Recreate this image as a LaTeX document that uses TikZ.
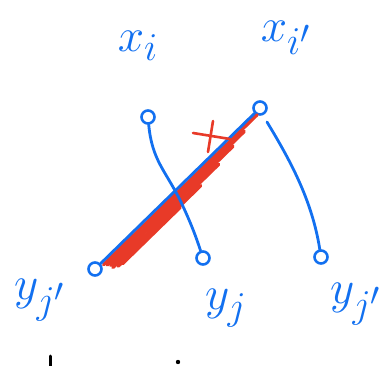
\documentclass[tikz,border=0pt]{standalone}
\usetikzlibrary{calc}

\definecolor{penblue}{RGB}{18,112,240}
\definecolor{penred}{RGB}{232,58,40}

\tikzset{
  dot/.style={draw=penblue,circle,line width=2.6pt,minimum size=13pt,inner sep=0pt},
  lbl/.style={text=penblue,font=\Huge,scale=1.9,inner sep=0pt},
  link/.style={draw=penblue,line width=2.8pt},
  scribble/.style={draw=penred,line width=#1}
}

\begin{document}
\begin{tikzpicture}[x=1pt,y=-1pt,line cap=round,line join=round]
  \useasboundingbox (0,0) rectangle (391,366);
  % labels
  \node[lbl] (lxi) at (138,46) {$x_i$};
  \node[lbl] (lxii) at (286,38) {$x_{i'}$};
  \node[lbl] (lyjj) at (40,300) {$y_{j'}$};
  \node[lbl] (lyj) at (226,308) {$y_j$};
  \node[lbl] (lyjr) at (356,304) {$y_{j'}$};
  % vertices
  \node[dot] (xi) at (148,117) {};
  \node[dot] (xii) at (260,108) {};
  \node[dot] (yjl) at (95,269) {};
  \node[dot] (yj) at (203,258) {};
  \node[dot] (yjr) at (321,257) {};
  % crossed edge, scribbled out
  \foreach \a/\b/\d/\w in {0.04/0.97/2/3.4, 0.05/0.88/4/3.6, 0.06/0.8/6/3.4, 0.06/0.7/8/3.6, 0.08/0.58/10/3.4, 0.1/0.45/11/3.0} {
    \draw[scribble=\w pt] ($(yjl)!\a!(xii)+(\d,\d)$) -- ($(yjl)!\b!(xii)+(\d,\d)$);
  }
  \draw[link] (yjl) -- (xii);
  \draw[scribble=2.6pt] (193,133) -- (230,139);
  \draw[scribble=2.6pt] (213,121) -- (208,152);
  % edges
  \draw[link] (xi) .. controls (152,160) and (165,170) .. (180,200) .. controls (192,225) and (197,240) .. (yj);
  \draw[link] ($(xii)+(7,14)$) .. controls (290,160) and (312,200) .. (yjr);
  % black marks at the bottom edge
  \draw[line width=3pt] (50,356) -- (50,366);
  \fill (178,362) circle (2.2pt);
\end{tikzpicture}
\end{document}
